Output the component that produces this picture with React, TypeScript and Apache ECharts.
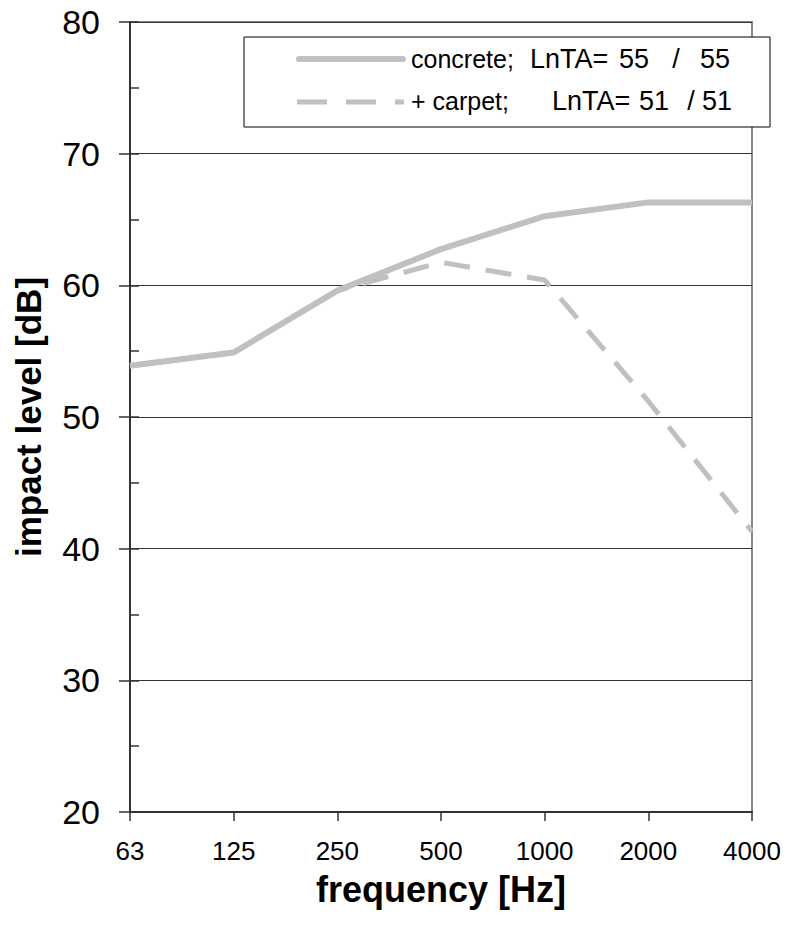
import React, { useEffect, useRef } from "react";
import * as echarts from "echarts";

const categories = ["63", "125", "250", "500", "1000", "2000", "4000"];
const concrete = [53.9, 54.9, 59.6, 62.75, 65.25, 66.3, 66.3];
const carpet = [53.9, 54.9, 59.6, 61.75, 60.4, 51.2, 41.3];
const yTicks = { min: 20, max: 80, interval: 10 };
const legendNames = ["concrete;", "+ carpet;"];
const legendLnTA = [
  ["55", "55"],
  ["51", "51"],
];

const FONT = "Liberation Sans, Arial, sans-serif";
const LINE_COLOR = "#c0c0c0";

function txt(text: string, x: number, y: number, align: string = "left", size: number = 27) {
  return {
    type: "text",
    x,
    y,
    z: 101,
    style: { text, fontSize: size, fill: "#000", fontFamily: FONT, verticalAlign: "middle", align },
  };
}

export default function App() {
  const ref = useRef<HTMLDivElement>(null);
  useEffect(() => {
    if (!ref.current) return;
    const chart = echarts.init(ref.current, undefined, { renderer: "svg" });
    chart.setOption({
      animation: false,
      backgroundColor: "#fff",
      textStyle: { fontFamily: FONT },
      grid: {
        left: 130,
        top: 22,
        right: 35,
        bottom: 113,
        show: true,
        borderColor: "#888",
        borderWidth: 2,
        backgroundColor: "transparent",
      },
      xAxis: {
        type: "category",
        data: categories,
        boundaryGap: false,
        axisLine: { lineStyle: { color: "#333", width: 2 } },
        axisTick: { length: 9, lineStyle: { color: "#333", width: 1.5 } },
        axisLabel: { fontSize: 26, color: "#000", margin: 26, fontFamily: FONT },
        name: "frequency [Hz]",
        nameLocation: "middle",
        nameGap: 59,
        nameTextStyle: { fontSize: 36, fontWeight: "bold", color: "#000", fontFamily: FONT },
        splitLine: { show: false },
      },
      yAxis: [
        {
          type: "value",
          min: yTicks.min,
          max: yTicks.max,
          interval: yTicks.interval,
          axisLine: { show: true, lineStyle: { color: "#333", width: 2 } },
          axisTick: { show: true, length: 11, lineStyle: { color: "#333", width: 1.5 } },
          axisLabel: { fontSize: 34, color: "#000", margin: 30, fontFamily: FONT },
          splitLine: { show: true, lineStyle: { color: "#333", width: 1 } },
          name: "impact level [dB]",
          nameLocation: "middle",
          nameGap: 84,
          nameTextStyle: { fontSize: 35, fontWeight: "bold", color: "#000", fontFamily: FONT },
        },
        {
          type: "value",
          position: "left",
          offset: 0,
          min: yTicks.min,
          max: yTicks.max,
          interval: yTicks.interval / 2,
          axisLine: { show: false },
          axisTick: { show: true, inside: true, length: 9, lineStyle: { color: "#333", width: 1.5 } },
          axisLabel: { show: false },
          splitLine: { show: false },
        },
      ],
      series: [
        {
          name: "concrete",
          type: "line",
          data: concrete,
          symbol: "none",
          lineStyle: { color: LINE_COLOR, width: 6 },
        },
        {
          name: "+ carpet",
          type: "line",
          data: carpet,
          symbol: "none",
          lineStyle: { color: LINE_COLOR, width: 5, type: [26, 16] },
        },
      ],
      graphic: [
        {
          type: "rect",
          shape: { x: 244, y: 37, width: 526, height: 90 },
          style: { fill: "#fff", stroke: "#000", lineWidth: 1 },
          z: 100,
        },
        {
          type: "line",
          shape: { x1: 299, y1: 59, x2: 403, y2: 59 },
          style: { stroke: LINE_COLOR, lineWidth: 6, lineCap: "round" },
          z: 101,
        },
        {
          type: "line",
          shape: { x1: 297, y1: 102, x2: 404, y2: 102 },
          style: { stroke: LINE_COLOR, lineWidth: 5, lineDash: [30, 19] },
          z: 101,
        },
        txt(legendNames[0], 411, 59, "left", 25),
        txt("LnTA=", 530, 59),
        txt(legendLnTA[0][0], 634, 59, "center"),
        txt("/", 676, 59, "center"),
        txt(legendLnTA[0][1], 730, 59, "right"),
        txt(legendNames[1], 411, 101, "left", 25),
        txt("LnTA=", 552, 101),
        txt(legendLnTA[1][0], 654, 101, "center"),
        txt("/", 691, 101, "center"),
        txt(legendLnTA[1][1], 732, 101, "right"),
      ],
    });
    return () => chart.dispose();
  }, []);
  return (
    <div
      ref={ref}
      style={{ position: "fixed", left: 0, top: 0, width: 787, height: 925, background: "#fff" }}
    />
  );
}
